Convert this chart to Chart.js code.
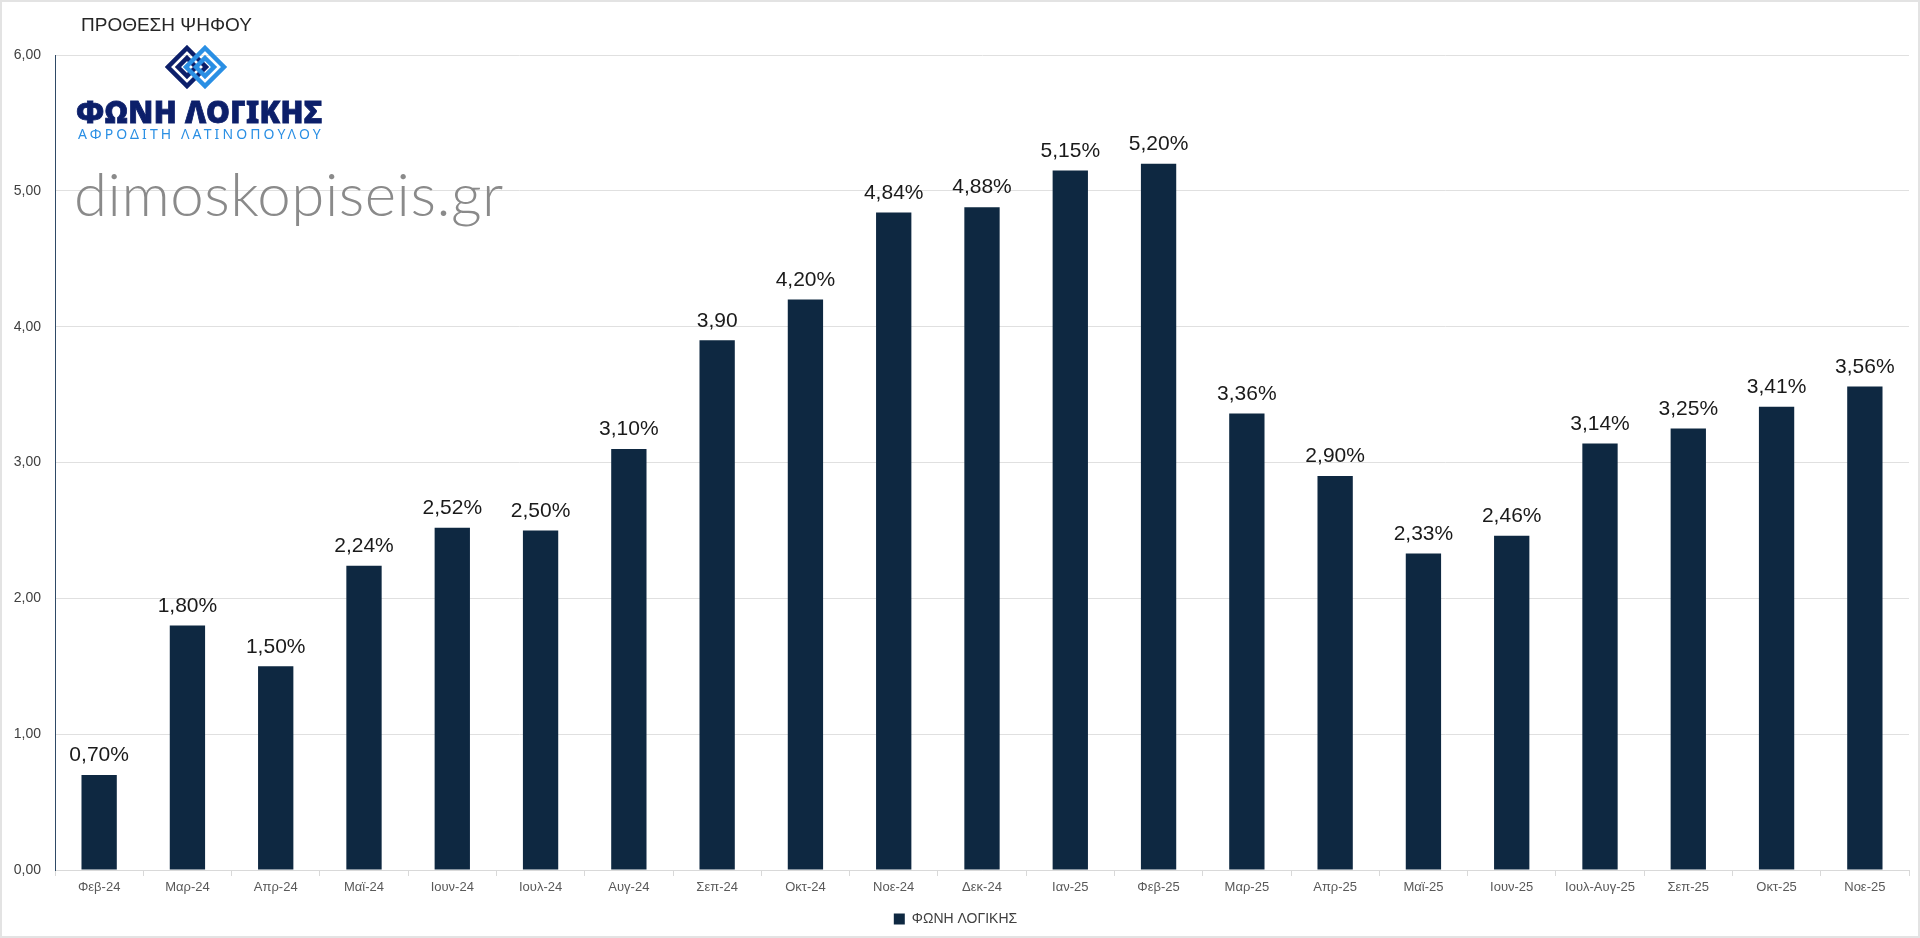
<!DOCTYPE html>
<html>
<head>
<meta charset="utf-8">
<script src="https://cdn.jsdelivr.net/npm/chart.js@4.4.1/dist/chart.umd.min.js"></script>
<style>
  html, body { margin: 0; padding: 0; background: #fff; }
  #wrap { position: relative; width: 1920px; height: 938px; box-sizing: border-box; border: 2px solid #e3e3e3; }
  #wrap canvas { position: absolute; left: 0; top: 0; }
  .title { position: absolute; left: 79px; top: 12px; font: 19px "Liberation Sans", Arial, sans-serif; color: #262626; }
  .logo { position: absolute; left: 74px; top: 42px; width: 250px; }
  .logo svg { position: absolute; left: 89px; top: 1px; }
  .brand { position: absolute; left: 0; top: 47px; font: 900 30px "Noto Sans", "DejaVu Sans", sans-serif; color: #0c1f6a; letter-spacing: 0.3px; white-space: nowrap; -webkit-text-stroke: 0.8px #0c1f6a; }
  .sub { position: absolute; left: 2px; top: 80px; font: 14px "Noto Sans", "DejaVu Sans", sans-serif; color: #2a8fe4; letter-spacing: 3.1px; white-space: nowrap; }
  .wm { position: absolute; left: 72px; top: 155px; font: 300 60px Lato, "Noto Sans", sans-serif; color: #8a8a8a; white-space: nowrap; letter-spacing: 0.5px; }
</style>
</head>
<body>
<div id="wrap">
  <canvas id="chart"></canvas>
  <div class="title">ΠΡΟΘΕΣΗ ΨΗΦΟΥ</div>
  <div class="logo">
    <svg width="64" height="44" viewBox="0 0 64 44">
      <g fill="none" stroke-width="4.5">
        <path d="M22 3 L41 22 L22 41 L3 22 Z" stroke="#0c1f6a"/>
        <path d="M22 13 L31 22 L22 31 L13 22 Z" stroke="#0c1f6a"/>
        <path d="M40 3 L59 22 L40 41 L21 22 Z" stroke="#2a8fe4"/>
        <path d="M40 13 L49 22 L40 31 L31 22 Z" stroke="#2a8fe4"/>
      </g>
    </svg>
    <div class="brand">ΦΩΝΗ ΛΟΓΙΚΗΣ</div>
    <div class="sub">ΑΦΡΟΔΙΤΗ ΛΑΤΙΝΟΠΟΥΛΟΥ</div>
  </div>
  <div class="wm">dimoskopiseis.gr</div>
</div>
<script>
const months = ["Φεβ-24", "Μαρ-24", "Απρ-24", "Μαϊ-24", "Ιουν-24", "Ιουλ-24", "Αυγ-24", "Σεπ-24", "Οκτ-24", "Νοε-24", "Δεκ-24",
  "Ιαν-25", "Φεβ-25", "Μαρ-25", "Απρ-25", "Μαϊ-25", "Ιουν-25", "Ιουλ-Αυγ-25", "Σεπ-25", "Οκτ-25", "Νοε-25"];
const voteShare = [0.70, 1.80, 1.50, 2.24, 2.52, 2.50, 3.10, 3.90, 4.20, 4.84, 4.88,
  5.15, 5.20, 3.36, 2.90, 2.33, 2.46, 3.14, 3.25, 3.41, 3.56];
const valueLabels = ["0,70%", "1,80%", "1,50%", "2,24%", "2,52%", "2,50%", "3,10%", "3,90", "4,20%", "4,84%", "4,88%",
  "5,15%", "5,20%", "3,36%", "2,90%", "2,33%", "2,46%", "3,14%", "3,25%", "3,41%", "3,56%"];
const yTicks = [0, 1, 2, 3, 4, 5, 6];

// labels above each bar
const barLabels = {
  id: "barLabels",
  afterDatasetsDraw(chart) {
    const ctx = chart.ctx;
    const meta = chart.getDatasetMeta(0);
    ctx.save();
    ctx.font = "21px 'Liberation Sans', Arial, sans-serif";
    ctx.fillStyle = "#1a1a1a";
    ctx.textAlign = "center";
    ctx.textBaseline = "bottom";
    meta.data.forEach((bar, i) => {
      ctx.fillText(valueLabels[i], bar.x, bar.y - 9);
    });
    ctx.restore();
  }
};

const canvas = document.getElementById("chart");
canvas.width = 1920;
canvas.height = 938;

new Chart(canvas, {
  type: "bar",
  data: {
    labels: months,
    datasets: [{
      label: "ΦΩΝΗ ΛΟΓΙΚΗΣ",
      data: voteShare,
      backgroundColor: "#0e2841",
      borderWidth: 0,
      categoryPercentage: 1,
      barPercentage: 0.4
    }]
  },
  options: {
    responsive: false,
    animation: false,
    layout: { padding: { top: 53, right: 13, left: 0, bottom: 4 } },
    plugins: {
      tooltip: { enabled: false },
      legend: {
        position: "bottom",
        labels: {
          boxWidth: 11,
          boxHeight: 11,
          padding: 10,
          color: "#404040",
          font: { size: 14, family: "'Liberation Sans', Arial, sans-serif" }
        }
      }
    },
    scales: {
      x: {
        offset: true,
        grid: { display: true, drawOnChartArea: false, tickLength: 6, color: "#d9d9d9", offset: true },
        border: { color: "#d9d9d9", width: 1 },
        ticks: { color: "#595959", padding: 4, maxRotation: 0, autoSkip: false,
          font: { size: 13, family: "'Liberation Sans', Arial, sans-serif" } },
        afterFit(s) { s.height = 32; }
      },
      y: {
        min: 0,
        max: 6,
        afterBuildTicks(s) { s.ticks = yTicks.map(v => ({ value: v })); },
        grid: { color: "#e0e0e0", drawTicks: false },
        border: { color: "#2f4a66", width: 1 },
        ticks: {
          color: "#404040",
          padding: 14,
          font: { size: 14, family: "'Liberation Sans', Arial, sans-serif" },
          callback: v => v.toFixed(2).replace(".", ",")
        },
        afterFit(s) { s.width = 53; }
      }
    }
  },
  plugins: [barLabels]
});
</script>
</body>
</html>
